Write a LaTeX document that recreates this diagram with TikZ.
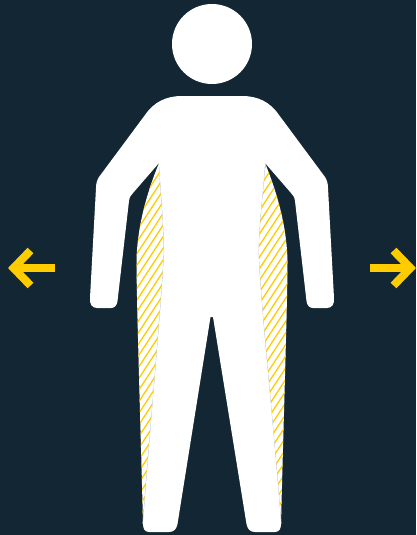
\documentclass[tikz,border=0pt]{standalone}
\definecolor{bg}{HTML}{122733}
\definecolor{amber}{HTML}{FFCC00}
\definecolor{edgegrey}{HTML}{C4C8CA}
\tikzset{
  figure/.style={fill=white,draw=none},
  stripe/.style={draw=amber,line width=1.3pt},
  arrowmark/.style={draw=amber,line width=8pt,miter limit=10,line cap=butt,line join=miter},
}
\begin{document}
\begin{tikzpicture}[x=1pt,y=-1pt]
\path[fill=bg,use as bounding box] (0,0) rectangle (416,535);
% hatched left
\begin{scope}
\clip (159,163) .. controls (148,190) and (137,225) .. (136.5,262) .. controls (136.5,300) and (141,440) .. (143,524) -- (170,400) -- (170,163) -- cycle;
\fill[white] (120,150) rectangle (180,530);
\foreach \i in {0,...,75} {
  \draw[stripe] ({-260+\i*7.6},535) -- ({-260+\i*7.6+350},0);
}
\end{scope}
% hatched right
\begin{scope}
\clip (265,163) .. controls (276,190) and (287,225) .. (287.5,262) .. controls (287.5,300) and (283,440) .. (281,524) -- (250,400) -- (250,163) -- cycle;
\fill[white] (245,150) rectangle (295,530);
\foreach \i in {0,...,75} {
  \draw[stripe] ({-120+\i*7.6},535) -- ({-120+\i*7.6+350},0);
}
\end{scope}
% grey edges
\draw[edgegrey,line width=0.8pt] (159,163) .. controls (161,195) and (164,225) .. (164,253) .. controls (162,300) and (150,430) .. (143,524);
\draw[edgegrey,line width=0.8pt] (265,163) .. controls (263,195) and (258.5,225) .. (258.5,253) .. controls (260,300) and (274,430) .. (281,524);
% body
\fill[figure]
 (182,96) -- (242,96)
 .. controls (258,96) and (270,102) .. (279,115)
 -- (325,177) .. controls (327,180) and (328,184) .. (328,188)
 -- (334,298) .. controls (334.5,304) and (332,308) .. (327,308)
 -- (313,308) .. controls (309,308) and (307,305) .. (306.5,301)
 -- (295,201) .. controls (294.5,197) and (293,195) .. (291,193)
 -- (265,163)
 .. controls (263,195) and (258.5,225) .. (258.5,253)
 .. controls (260,300) and (274,430) .. (281,524)
 .. controls (281,529) and (279,532) .. (275,532)
 -- (255,532) .. controls (250,532) and (247.5,529) .. (246.5,524)
 -- (213,317) -- (210.5,317)
 -- (177.5,524) .. controls (176.5,529) and (174,532) .. (169,532)
 -- (149,532) .. controls (145,532) and (143,529) .. (143,524)
 .. controls (150,430) and (162,300) .. (164,253)
 .. controls (164,225) and (161,195) .. (159,163)
 -- (133,193) .. controls (131,195) and (129.5,197) .. (129,201)
 -- (117.5,301) .. controls (117,305) and (115,308) .. (111,308)
 -- (97,308) .. controls (92,308) and (89.5,304) .. (90,298)
 -- (96,188) .. controls (96,184) and (97,180) .. (99,177)
 -- (145,115) .. controls (154,102) and (166,96) .. (182,96) -- cycle;
\fill[figure] (212,44) circle[radius=40];
% arrows
\draw[arrowmark] (55,268) -- (14,268);
\draw[arrowmark] (30.5,250.5) -- (13.6,268) -- (30.5,285.5);
\draw[arrowmark] (369.5,268) -- (410,268);
\draw[arrowmark] (393.5,250.5) -- (410.4,268) -- (393.5,285.5);
\end{tikzpicture}
\end{document}
